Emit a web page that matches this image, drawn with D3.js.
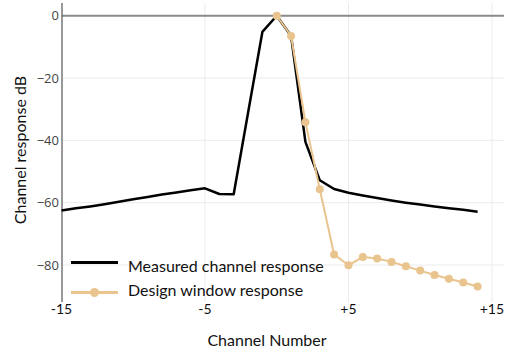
<!DOCTYPE html>
<html>
<head>
<meta charset="utf-8">
<script src="https://cdn.jsdelivr.net/npm/d3@7"></script>
<style>
  html, body { margin: 0; padding: 0; background: #fff; }
  svg { display: block; }
</style>
</head>
<body>
<svg id="chart" width="514" height="352"></svg>
<script>
// ---- data ----
const measuredChannels = [-15,-14,-13,-12,-11,-10,-9,-8,-7,-6,-5,-4,-3,-2,-1,0,1,2,3,4,5,6,7,8,9,10,11,12,13,14];
const measuredValues   = [-62.5,-61.8,-61.2,-60.5,-59.7,-58.9,-58.2,-57.4,-56.7,-56.0,-55.4,-57.2,-57.3,-31.2,-5.2,0,-6.5,-40.5,-52.8,-55.6,-56.8,-57.7,-58.5,-59.3,-60.0,-60.6,-61.2,-61.8,-62.3,-62.9];
const designChannels   = [0,1,2,3,4,5,6,7,8,9,10,11,12,13,14];
const designValues     = [0,-6.5,-34.2,-55.7,-76.6,-80.1,-77.4,-77.9,-79.0,-80.4,-81.8,-83.2,-84.4,-85.6,-86.9];
const xTickValues = [-15,-5,5,15];
const xTickLabels = ["-15","-5","+5","+15"];
const yTickValues = [0,-20,-40,-60,-80];
const yTickLabels = ["0","\u221220","\u221240","\u221260","\u221280"];
const seriesNames = ["Measured channel response","Design window response"];
const xTitle = "Channel Number";
const yTitle = "Channel response dB";

// ---- layout ----
const W = 514, H = 352;
const plot = {left: 62, right: 504, top: 3, bottom: 302};
const x = d3.scaleLinear().domain([-15, 15.84]).range([61.5, plot.right]);
const y = d3.scaleLinear().domain([4.08, -91.87]).range([plot.top, plot.bottom]);
const blackColor = "#000";
const tanColor = "#e9c48e";

const svg = d3.select("#chart");

// grid
const grid = svg.append("g");
grid.selectAll("line.gx").data(xTickValues.filter(v => v !== -15)).enter().append("line")
  .attr("x1", d => x(d)).attr("x2", d => x(d))
  .attr("y1", plot.top).attr("y2", plot.bottom)
  .attr("stroke", "#ebebeb").attr("stroke-width", 1);
grid.selectAll("line.gy").data(yTickValues.filter(v => v !== 0)).enter().append("line")
  .attr("x1", plot.left).attr("x2", plot.right)
  .attr("y1", d => y(d)).attr("y2", d => y(d))
  .attr("stroke", "#ebebeb").attr("stroke-width", 1);

// zero line
svg.append("line")
  .attr("x1", plot.left).attr("x2", plot.right)
  .attr("y1", y(0)).attr("y2", y(0))
  .attr("stroke", "#8a8a8a").attr("stroke-width", 2);

// y axis line
svg.append("line")
  .attr("x1", plot.left).attr("x2", plot.left)
  .attr("y1", plot.top).attr("y2", plot.bottom)
  .attr("stroke", "#555").attr("stroke-width", 1.2);

// y tick labels
svg.append("g").selectAll("text").data(yTickValues).enter().append("text")
  .attr("x", plot.left - 3)
  .attr("y", d => y(d))
  .attr("dy", "0.35em")
  .attr("text-anchor", "end")
  .attr("font-family", "'Open Sans', sans-serif")
  .attr("font-size", 13)
  .attr("fill", "#444")
  .text((d, i) => yTickLabels[i]);

// x tick labels
svg.append("g").selectAll("text").data(xTickValues).enter().append("text")
  .attr("x", d => x(d))
  .attr("y", 313.5)
  .attr("text-anchor", "middle")
  .attr("font-family", "Lato, sans-serif")
  .attr("font-size", 14)
  .attr("fill", "#111")
  .text((d, i) => xTickLabels[i]);

// axis titles
svg.append("text")
  .attr("x", 267).attr("y", 346)
  .attr("text-anchor", "middle")
  .attr("font-family", "Lato, sans-serif")
  .attr("font-size", 16)
  .attr("fill", "#111")
  .text(xTitle);
svg.append("text")
  .attr("transform", "translate(26,150) rotate(-90)")
  .attr("text-anchor", "middle")
  .attr("font-family", "Lato, sans-serif")
  .attr("font-size", 16)
  .attr("fill", "#111")
  .text(yTitle);

// lines
const line = d3.line().x(d => x(d[0])).y(d => y(d[1]));
const measured = measuredChannels.map((c, i) => [c, measuredValues[i]]);
const design = designChannels.map((c, i) => [c, designValues[i]]);

svg.append("path").datum(measured)
  .attr("d", line).attr("fill", "none")
  .attr("stroke", blackColor).attr("stroke-width", 2.5)
  .attr("stroke-linejoin", "round");

svg.append("path").datum(design)
  .attr("d", line).attr("fill", "none")
  .attr("stroke", tanColor).attr("stroke-width", 2)
  .attr("stroke-linejoin", "round");
svg.append("g").selectAll("circle").data(design).enter().append("circle")
  .attr("cx", d => x(d[0])).attr("cy", d => y(d[1]))
  .attr("r", 4).attr("fill", tanColor);

// legend
const legend = svg.append("g");
legend.append("line").attr("x1", 71).attr("x2", 118).attr("y1", 262.5).attr("y2", 262.5)
  .attr("stroke", blackColor).attr("stroke-width", 3);
legend.append("line").attr("x1", 71).attr("x2", 118).attr("y1", 292.5).attr("y2", 292.5)
  .attr("stroke", tanColor).attr("stroke-width", 3);
legend.append("circle").attr("cx", 94.5).attr("cy", 292.5).attr("r", 4.5).attr("fill", tanColor);
legend.selectAll("text").data(seriesNames).enter().append("text")
  .attr("x", 128).attr("y", (d, i) => 271.5 + i * 24)
  .attr("font-family", "Lato, sans-serif")
  .attr("font-size", 16)
  .attr("fill", "#111")
  .text(d => d);
</script>
</body>
</html>
